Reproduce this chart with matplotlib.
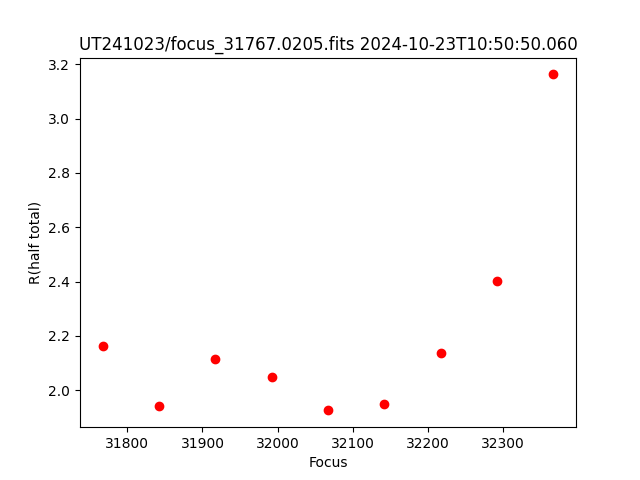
import matplotlib
matplotlib.use('Agg')
import matplotlib.pyplot as plt

focus = [31767, 31842, 31917, 31992, 32067, 32142, 32217, 32292, 32367]
r_half = [2.163, 1.941, 2.114, 2.048, 1.926, 1.948, 2.136, 2.402, 3.163]

plt.figure(figsize=(6.4, 4.8), dpi=100)
plt.plot(focus, r_half, 'ro')
plt.xlabel('Focus')
plt.ylabel('R(half total)')
plt.title('UT241023/focus_31767.0205.fits 2024-10-23T10:50:50.060')
plt.savefig('out.png')
